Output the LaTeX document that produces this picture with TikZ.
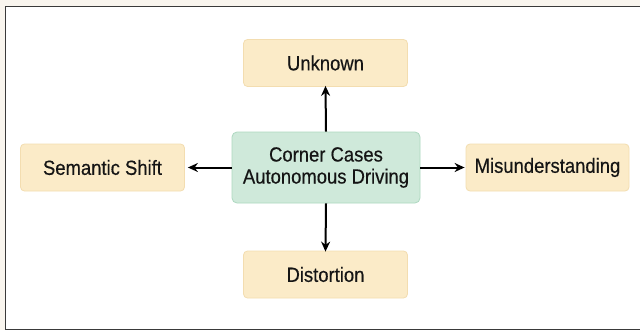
\documentclass[tikz,border=0pt]{standalone}
\usepackage{fontspec}
\setmainfont{Liberation Sans}[FakeStretch=0.9,FakeBold=0.4]
\usetikzlibrary{arrows.meta}
\definecolor{bgcream}{HTML}{F9F5EE}
\definecolor{framec}{HTML}{3A3A3A}
\definecolor{yfill}{HTML}{FBEBC8}
\definecolor{ydraw}{HTML}{F3DDB0}
\definecolor{gfill}{HTML}{CFE9DA}
\definecolor{gdraw}{HTML}{AED8C0}
\definecolor{txt}{HTML}{151515}
\tikzset{
  x=1pt,y=1pt,
  leaf/.style={draw=ydraw, fill=yfill, line width=0.8pt, rounded corners=4pt,
    minimum width=164pt, minimum height=47pt, inner sep=0pt, text=txt,
    font=\fontsize{20.5}{22}\selectfont},
  core/.style={draw=gdraw, fill=gfill, line width=0.8pt, rounded corners=5pt,
    minimum width=188pt, minimum height=71pt, inner sep=0pt, text=txt, align=center,
    font=\fontsize{20.5}{22}\selectfont},
  conn/.style={line width=2pt, -{Stealth[length=10pt,width=9pt]}}
}
\begin{document}
\begin{tikzpicture}
\useasboundingbox (0,0) rectangle (640,330);
\fill[bgcream] (0,0) rectangle (640,330);
\draw[framec, fill=white, line width=1pt] (5,1) rectangle (641,323);
\node[core] (c) at (326,162.5) {Corner Cases\\Autonomous Driving};
\node[leaf] (u) at (325.5,267) {Unknown};
\node[leaf] (d) at (325.5,55.5) {Distortion};
\node[leaf] (s) at (102.5,162.5) {Semantic Shift};
\node[leaf, minimum width=163pt] (m) at (547.5,162.5) {Misunderstanding};
\draw[conn] (c.north) -- ([yshift=1pt]u.south);
\draw[conn] (c.south) -- ([yshift=-1pt]d.north);
\draw[conn] (c.west) -- ([xshift=3pt]s.east);
\draw[conn] (c.east) -- ([xshift=-1pt]m.west);
\end{tikzpicture}
\end{document}
